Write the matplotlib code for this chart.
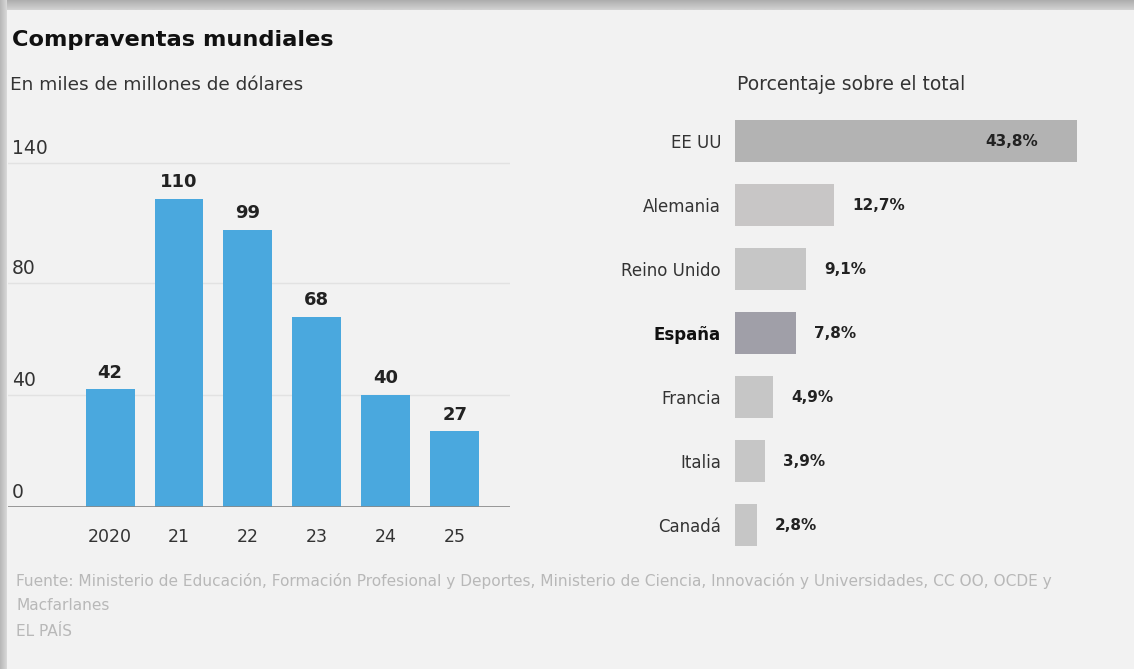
import numpy as np
import matplotlib
matplotlib.use("Agg")
from matplotlib import pyplot as plt
from matplotlib.transforms import blended_transform_factory

plt.rcParams['font.family'] = ['DejaVu Sans']

# ---------------- data ----------------
years = ["2020", "21", "22", "23", "24", "25"]
ventas = [42, 110, 99, 68, 40, 27]
ytick_pos = [0, 40, 80, 123]
ytick_lab = ["0", "40", "80", "140"]

paises = ["EE UU", "Alemania", "Reino Unido", "España", "Francia", "Italia", "Canadá"]
porcentaje = [43.8, 12.7, 9.1, 7.8, 4.9, 3.9, 2.8]
porc_lab = ["43,8%", "12,7%", "9,1%", "7,8%", "4,9%", "3,9%", "2,8%"]

titulo = "Compraventas mundiales"
subtit_izq = "En miles de millones de dólares"
subtit_der = "Porcentaje sobre el total"
fuente = ["Fuente: Ministerio de Educación, Formación Profesional y Deportes, Ministerio de Ciencia, Innovación y Universidades, CC OO, OCDE y",
          "Macfarlanes",
          "EL PAÍS"]

W, H = 1134, 669
BG = "#f2f2f2"
fig = plt.figure(figsize=(W / 100, H / 100), dpi=100)
fig.patch.set_facecolor(BG)

# ---------- frame / shadow ----------
bgax = fig.add_axes([0, 0, 1, 1], zorder=-5)
bgax.axis("off")
top = np.linspace(0.68, 0.82, 10).reshape(-1, 1)
bgax.imshow(np.repeat(top, 2, axis=1), cmap="gray", vmin=0, vmax=1,
            extent=(0, W, 10, 0), aspect="auto", interpolation="bilinear")
left = np.linspace(0.72, 0.84, 7).reshape(1, -1)
bgax.imshow(np.repeat(left, 2, axis=0), cmap="gray", vmin=0, vmax=1,
            extent=(0, 7, H, 0), aspect="auto", interpolation="bilinear")
bgax.set_xlim(0, W)
bgax.set_ylim(H, 0)

# ---------- titles ----------
fig.text(12 / W, 1 - 40 / H, titulo, fontsize=16.2, fontweight="bold",
         color="#111111", va="center", ha="left")
fig.text(10 / W, 1 - 85 / H, subtit_izq, fontsize=13.3, color="#333333",
         va="center", ha="left")
fig.text(737 / W, 1 - 85 / H, subtit_der, fontsize=13.5, color="#333333",
         va="center", ha="left")
for i, linea in enumerate(fuente):
    fig.text(16 / W, 1 - (581 + 25 * i) / H, linea, fontsize=11.1,
             color="#b8b8b8", va="center", ha="left")

# ---------- left bar chart ----------
ax = fig.add_axes([8 / W, (H - 507) / H, 502 / W, 392 / H])
ax.set_facecolor("none")
x = np.arange(len(years))
ax.bar(x, ventas, width=0.71, color="#4aa8de", zorder=2)
ax.set_xlim(-1.48, 5.8)
ax.set_ylim(0, 140)
for yv in ytick_pos[1:]:
    ax.axhline(yv, color="#e2e2e2", linewidth=1, zorder=1)
ax.axhline(0, color="#888888", linewidth=1.2, zorder=3)
for s in ax.spines.values():
    s.set_visible(False)
ax.set_yticks([])
ax.set_xticks(x)
ax.set_xticklabels(years, fontsize=12.5, color="#333333")
ax.tick_params(axis="x", length=0, pad=15)
tr = blended_transform_factory(ax.transAxes, ax.transData)
for yv, lab in zip(ytick_pos, ytick_lab):
    ax.annotate(lab, (0.008, yv), xycoords=tr, xytext=(0, 10.5),
                textcoords="offset points", fontsize=13.5, color="#333333",
                ha="left", va="center")
for xi, v in zip(x, ventas):
    ax.annotate(str(v), (xi, v), xytext=(0, 12), textcoords="offset points",
                ha="center", va="center", fontsize=13, fontweight="bold",
                color="#222222")

# ---------- right bar chart ----------
ax2 = fig.add_axes([735 / W, (H - 557) / H, 399 / W, 448 / H])
ax2.set_facecolor("none")
colores = ["#b3b3b3", "#c8c6c6", "#c6c6c6", "#a09fa8", "#c6c6c6", "#c6c6c6", "#c6c6c6"]
yy = np.arange(len(paises))
ax2.barh(yy, porcentaje, height=0.66, color=colores)
ax2.set_xlim(0, 399 / 7.8)
ax2.set_ylim(len(paises) - 0.5, -0.5)
for s in ax2.spines.values():
    s.set_visible(False)
ax2.set_xticks([])
ax2.set_yticks(yy)
ax2.set_yticklabels(paises, fontsize=12, color="#333333")
ax2.tick_params(axis="y", length=0, pad=10)
for t in ax2.get_yticklabels():
    if t.get_text() == "España":
        t.set_fontweight("bold")
        t.set_color("#111111")
for yi, v, lab in zip(yy, porcentaje, porc_lab):
    if v > 30:
        ax2.annotate(lab, (v, yi), xytext=(-28, 0), textcoords="offset points",
                     ha="right", va="center", fontsize=11, fontweight="bold",
                     color="#222222")
    else:
        ax2.annotate(lab, (v, yi), xytext=(13, 0), textcoords="offset points",
                     ha="left", va="center", fontsize=11, fontweight="bold",
                     color="#222222")

fig.savefig("out.png", dpi=100, facecolor=fig.get_facecolor())
